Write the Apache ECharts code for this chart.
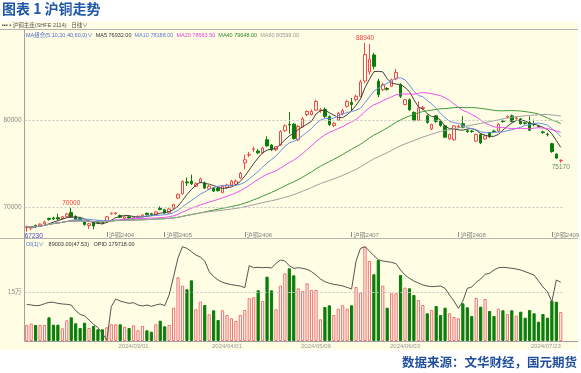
<!DOCTYPE html>
<html><head><meta charset="utf-8">
<script src="https://cdn.jsdelivr.net/npm/echarts@6.0.0/dist/echarts.min.js"></script>
<style>html,body{margin:0;padding:0;background:#fff;}#c{width:581px;height:373px;}</style>
</head><body><div id="c"></div>
<script>
const dates = ['2024/01/19','2024/01/22','2024/01/23','2024/01/24','2024/01/25','2024/01/26','2024/01/29','2024/01/30','2024/01/31',
'2024/02/01','2024/02/02','2024/02/05','2024/02/06','2024/02/07','2024/02/08','2024/02/19','2024/02/20','2024/02/21','2024/02/22','2024/02/23','2024/02/26','2024/02/27','2024/02/28','2024/02/29',
'2024/03/01','2024/03/04','2024/03/05','2024/03/06','2024/03/07','2024/03/08','2024/03/11','2024/03/12','2024/03/13','2024/03/14','2024/03/15','2024/03/18','2024/03/19','2024/03/20','2024/03/21','2024/03/22','2024/03/25','2024/03/26','2024/03/27','2024/03/28','2024/03/29',
'2024/04/01','2024/04/02','2024/04/03','2024/04/08','2024/04/09','2024/04/10','2024/04/11','2024/04/12','2024/04/15','2024/04/16','2024/04/17','2024/04/18','2024/04/19','2024/04/22','2024/04/23','2024/04/24','2024/04/25','2024/04/26','2024/04/29','2024/04/30',
'2024/05/06','2024/05/07','2024/05/08','2024/05/09','2024/05/10','2024/05/13','2024/05/14','2024/05/15','2024/05/16','2024/05/17','2024/05/20','2024/05/21','2024/05/22','2024/05/23','2024/05/24','2024/05/27','2024/05/28','2024/05/29','2024/05/30','2024/05/31',
'2024/06/03','2024/06/04','2024/06/05','2024/06/06','2024/06/07','2024/06/11','2024/06/12','2024/06/13','2024/06/14','2024/06/17','2024/06/18','2024/06/19','2024/06/20','2024/06/21','2024/06/24','2024/06/25','2024/06/26','2024/06/27','2024/06/28',
'2024/07/01','2024/07/02','2024/07/03','2024/07/04','2024/07/05','2024/07/08','2024/07/09','2024/07/10','2024/07/11','2024/07/12','2024/07/15','2024/07/16','2024/07/17','2024/07/18','2024/07/19','2024/07/22','2024/07/23'];

const opens = [67700,67650,67950,67900,68150,68750,68800,68850,68750,68950,
69450,69000,68750,68350,67950,68250,68450,68350,68350,69300,
69300,69100,68750,68950,68700,68850,68950,69350,69300,69250,
69900,69750,69400,69950,71100,71600,72950,73050,72450,72900,
72850,72150,72250,72250,71750,72300,72600,72650,73400,75150,
76050,76700,76500,76300,77800,77200,76650,77200,78850,79550,
79600,77800,79300,80700,80700,81200,81150,81300,80450,79450,
80050,80800,81650,82100,82400,82800,84550,85600,87550,84550,
83550,83700,83950,84800,84150,81850,82400,80950,80050,81400,
80550,79050,80550,79950,79400,77900,77800,79300,79650,78850,
78800,77650,78400,77900,78600,78800,78800,79950,80400,80550,
80250,80200,79750,79800,79600,79400,78700,78450,77350,76150,
75400];
const closes = [67800,67750,67850,68100,68350,68650,68700,68700,68950,69250,
68950,68700,68550,68050,68150,67900,68300,68250,68950,69350,
69400,68900,68950,68800,68850,69000,69150,69200,69200,69500,
69800,69400,69850,70350,71500,73000,72850,72750,72750,73300,
72250,72450,71900,71950,72450,72600,73050,73050,73950,75500,
76100,76750,76300,76850,77100,76650,77000,78750,79400,79500,
77950,79350,80200,81050,81050,82200,81250,80500,79550,79700,
80850,81150,82200,81850,82800,84450,87600,87050,86250,83000,
84150,83600,84700,85550,82800,82400,81250,80050,81450,81500,
79800,79550,79900,79450,78100,78400,79400,79350,79250,78750,
78750,78400,77450,78250,78150,78750,79550,79900,80450,79900,
80300,79650,79700,78900,79550,79350,78650,78400,76450,75700,
75450];
const lows = [67230,67400,67650,67800,68050,68500,68600,68550,68650,68900,
68850,68500,68450,67950,67550,67500,68150,68100,68250,69200,
69200,68800,68650,68700,68550,68750,68850,69100,69100,69150,
69700,69300,69300,69850,71000,71500,72500,72600,72350,72800,
72150,72050,71800,71850,71650,72200,72450,72550,73300,74400,
75800,76400,76150,76200,77000,76500,76500,77100,78700,78500,
77800,77650,79200,80500,80600,81100,80900,80300,79400,79250,
79950,80600,81500,81100,82200,82700,84300,85300,85900,82700,
83400,83450,83850,84650,82600,81750,81100,79900,79950,81200,
79650,78900,79750,79300,78000,77800,77700,79100,79100,78600,
78600,77550,77300,77750,78000,78600,78700,79750,80250,79800,
80100,79550,79550,78800,79350,79200,78450,78200,76300,75600,
75170];
const highs = [67950,67900,68050,68200,68500,68850,68950,69300,69050,69400,
70000,69100,68900,68450,68250,68350,68550,68450,69050,69450,
69500,69200,69050,69050,68950,69100,69250,69450,69400,69600,
70150,69850,69950,70450,71650,73150,73450,73800,72900,73450,
73000,72600,72350,72400,72550,72750,73200,73250,74100,76100,
76400,77000,76750,77000,78200,77300,77100,78900,79600,81000,
79700,79500,80400,81200,81300,82400,81450,81500,80600,79850,
81000,81350,82400,82600,83000,84700,88940,88800,87800,84800,
84350,83850,84850,85950,84300,82500,82550,81050,82200,81700,
80700,79650,80650,80100,79500,78500,79500,79550,80500,79000,
78950,78500,78550,78400,78700,78950,79700,80100,80600,80700,
80450,80300,79900,80500,80100,79500,78850,78600,77450,76250,
75550];
const volumes = [49000,53000,49000,49000,49000,72500,49900,49900,38900,63400,
72500,54200,39800,56000,39800,45900,35800,35800,41900,51100,
51100,51100,43800,39800,48100,32800,45900,32800,28500,51100,
62100,45000,49000,101900,195000,169300,158300,185800,97000,120300,
110200,81700,94000,64300,94000,79600,69500,61200,79600,94900,
130700,133800,155200,122400,196800,155200,97000,169300,207200,222500,
201100,161300,153100,176600,156100,156100,66400,104100,109300,79600,
98900,109300,98900,109300,165300,147800,288700,244900,204200,247900,
169300,101900,146000,146000,202000,163200,161300,140800,125500,110200,
84800,94900,107100,79600,101900,84800,73500,69500,115400,103200,
76500,131600,105000,128600,91800,76500,98900,94000,82600,94000,
77400,89700,71300,94900,84800,59100,82600,71300,123400,120300,
89003];
const openInterest = [112300,110200,108100,109100,114300,118400,118400,115300,113300,112300,
110200,93000,81600,76500,64300,51000,40800,23500,3100,105100,
128600,122400,118400,115300,117300,110200,107100,110200,106100,110200,
113300,108100,140800,196900,255100,288700,283600,273500,263300,257100,
244900,212200,196900,186700,179500,175500,172400,170400,168300,163200,
230500,224400,225500,224400,225500,223400,237700,248000,244900,230500,
222400,224400,222400,219400,212200,202000,189800,181600,176500,173400,
171400,168300,164200,159200,244900,283600,288700,275500,261300,249000,
244900,242800,240800,236700,217300,202000,191800,183700,177500,171400,
168300,166300,167300,168300,161200,140800,122400,100000,122400,161200,
165300,179500,189800,204100,207200,217300,224400,225500,224400,222400,
220400,217300,212200,207200,202000,183700,165300,151000,120400,186700,
179718];
const contractMarks = {'2024/02/22':'沪铜2404','2024/03/12':'沪铜2405','2024/04/09':'沪铜2406','2024/05/16':'沪铜2407','2024/06/20':'沪铜2408','2024/07/19':'沪铜2409'};
const dateMarks = ['2024/03/01','2024/04/01','2024/05/06','2024/06/03','2024/07/23'];
const priceLines = [70000, 80000];
const volLine = 150000;
const volLineLabel = '15万';
const maPeriods = [5, 10, 20, 40, 60];
const maColors = ['#404040', '#6a8fe0', '#f050f0', '#3f9a3f', '#a0a0a0'];
const earlyRange = 30, lateRange = 15;

const BG = '#fffde3';
const UP = '#f24848', DOWN = '#0a7d0a';

function movingAvg(n) {
  return closes.map((c, i) => {
    const s = Math.max(0, i - n + 1);
    let sum = 0;
    for (let k = s; k <= i; k++) sum += closes[k];
    return +(sum / (i - s + 1)).toFixed(2);
  });
}
const candles = dates.map((d, i) => [opens[i], closes[i], lows[i], highs[i]]);
function argExt(arr, from, to, isMax) {
  let best = from;
  for (let i = from; i < to; i++) if (isMax ? arr[i] > arr[best] : arr[i] < arr[best]) best = i;
  return best;
}
const iMax = argExt(highs, 0, highs.length, true);
const iEarlyMax = argExt(highs, 0, earlyRange, true);
const iMin = argExt(lows, 0, lows.length, false);
const iLateMin = argExt(lows, lows.length - lateRange, lows.length, false);

const volData = volumes.map((v, i) => {
  const up = closes[i] >= opens[i];
  return { value: v, itemStyle: up ? { color: '#fffaf0', borderColor: '#f07070', borderWidth: 1 } : { color: DOWN, borderColor: DOWN, borderWidth: 1 } };
});

const FF = 'Liberation Sans, Noto Sans CJK SC, sans-serif';
function mp(idx, val, pos, color, extra) {
  return { coord: [dates[idx], val], value: val, symbol: 'circle', symbolSize: 1,
    itemStyle: { color: 'rgba(0,0,0,0)', borderWidth: 0 },
    label: Object.assign({ show: true, position: pos, distance: 1, formatter: String(val), color: color, fontSize: 6.5, fontFamily: FF }, extra || {}) };
}

const chart = echarts.init(document.getElementById('c'), null, { renderer: 'canvas', width: 581, height: 373 });
const series = [
  {
    type: 'candlestick', xAxisIndex: 0, yAxisIndex: 0, data: candles, barWidth: 3, z: 3,
    itemStyle: { color: BG, color0: DOWN, borderColor: UP, borderColor0: DOWN, borderWidth: 1 },
    markLine: {
      silent: true, symbol: ['none', 'none'], animation: false,
      lineStyle: { type: [2, 2], color: '#c4c4c4', width: 1 },
      label: { show: true, position: 'start', distance: 3, color: '#8a8a8a', fontSize: 6.5, fontFamily: FF, formatter: p => String(p.value) },
      data: priceLines.map(v => ({ yAxis: v }))
    },
    markPoint: {
      animation: false, silent: true,
      data: [
        mp(iMax, highs[iMax], 'top', '#f03c3c'),
        mp(iEarlyMax, highs[iEarlyMax], 'top', '#f03c3c'),
        mp(iLateMin, lows[iLateMin], 'bottom', '#5a8a5a'),
        mp(iMin, lows[iMin], 'bottom', '#4848c8', { offset: [7, 0] })
      ]
    }
  }
];
maPeriods.forEach((p, k) => {
  series.push({ type: 'line', xAxisIndex: 0, yAxisIndex: 0, data: movingAvg(p), showSymbol: false, symbol: 'none',
    lineStyle: { width: 1, color: maColors[k] }, itemStyle: { color: maColors[k] }, z: 4, silent: true });
});
series.push({
  type: 'bar', xAxisIndex: 1, yAxisIndex: 1, data: volData, barWidth: 3.2, z: 2,
  markLine: {
    silent: true, symbol: ['none', 'none'], animation: false,
    lineStyle: { type: [2, 2], color: '#c4c4c4', width: 1 },
    label: { show: true, position: 'start', distance: 3, color: '#8a8a8a', fontSize: 6.5, fontFamily: FF, formatter: volLineLabel },
    data: [{ yAxis: volLine }]
  }
});
series.push({ type: 'line', xAxisIndex: 1, yAxisIndex: 1, data: openInterest, showSymbol: false, symbol: 'none',
  lineStyle: { width: 1, color: '#555555' }, z: 5, silent: true });

const option = {
  animation: false,
  backgroundColor: '#ffffff',
  grid: [
    { left: 24.5, right: 18, top: 30, bottom: 141, outerBoundsMode: 'none', containLabel: false },
    { left: 24.5, right: 18, top: 238, bottom: 32, outerBoundsMode: 'none', containLabel: false }
  ],
  xAxis: [
    { type: 'category', gridIndex: 0, data: dates, boundaryGap: true,
      axisLine: { show: false },
      axisTick: { show: true, alignWithLabel: true, interval: (i, v) => contractMarks[v] !== undefined, length: 5, lineStyle: { color: '#8a8a8a' } },
      axisLabel: { show: true, interval: (i, v) => contractMarks[v] !== undefined, formatter: v => contractMarks[v] || '',
        fontSize: 6, color: '#808080', align: 'left', margin: 0, padding: [0, 0, 0, 2], fontFamily: FF },
      splitLine: { show: false } },
    { type: 'category', gridIndex: 1, data: dates, boundaryGap: true,
      axisLine: { show: false }, axisTick: { show: false },
      axisLabel: { show: true, interval: (i, v) => dateMarks.includes(v), fontSize: 6, color: '#9a9a9a', margin: 2, fontFamily: FF, alignMaxLabel: 'right' },
      splitLine: { show: false } }
  ],
  yAxis: [
    { type: 'value', gridIndex: 0, min: 67200, max: 90420, axisLine: { show: false }, axisTick: { show: false }, axisLabel: { show: false }, splitLine: { show: false } },
    { type: 'value', gridIndex: 1, min: 0, max: 315300, axisLine: { show: false }, axisTick: { show: false }, axisLabel: { show: false }, splitLine: { show: false } }
  ],
  series: series,
  graphic: [
    { type: 'rect', z: -10, silent: true, shape: { x: 0, y: 21, width: 578, height: 329 }, style: { fill: BG } },
    { type: 'line', z: -5, silent: true, shape: { x1: 0, y1: 29.5, x2: 578, y2: 29.5 }, style: { stroke: '#b4b4b4', lineWidth: 1 } },
    { type: 'line', z: -5, silent: true, shape: { x1: 0, y1: 238.5, x2: 578, y2: 238.5 }, style: { stroke: '#b4b4b4', lineWidth: 1 } },
    { type: 'line', z: -5, silent: true, shape: { x1: 24.5, y1: 29.5, x2: 24.5, y2: 341.5 }, style: { stroke: '#a0a0a0', lineWidth: 1 } },
    { type: 'line', z: -5, silent: true, shape: { x1: 24.5, y1: 341.5, x2: 578, y2: 341.5 }, style: { stroke: '#a0a0a0', lineWidth: 1 } },
    { type: 'text', silent: true, x: 2, y: 2, style: { text: '图表 1 沪铜走势', fill: '#1f58a8', fontSize: 14, fontWeight: 'bold', fontFamily: 'Noto Sans CJK SC', verticalAlign: 'top' } },
    { type: 'text', silent: true, x: 2, y: 25.5, style: { text: '▪▪▪ ▪ 沪铜主连(SHFE 2114)   日线∨', fill: '#505050', fontSize: 5.5, fontFamily: FF, verticalAlign: 'middle' } },
    { type: 'text', silent: true, x: 26, y: 35, style: {
        text: '{b|MA组合(5,10,20,40,60,0)∨}  {k|MA5 76932.00}  {bl|MA10 78188.00}  {m|MA20 78663.50}  {g|MA40 79648.00}  {gr|MA60 80599.00}',
        verticalAlign: 'middle', fontSize: 5.5, fontFamily: FF,
        rich: { b: { fill: '#4a66c8', fontSize: 5.5, fontFamily: FF }, k: { fill: '#333', fontSize: 5.5, fontFamily: FF }, bl: { fill: '#5a7ad8', fontSize: 5.5, fontFamily: FF },
          m: { fill: '#e040e0', fontSize: 5.5, fontFamily: FF }, g: { fill: '#2e8b2e', fontSize: 5.5, fontFamily: FF }, gr: { fill: '#999', fontSize: 5.5, fontFamily: FF } } } },
    { type: 'text', silent: true, x: 26, y: 244, style: {
        text: '{b|OI(1)∨}   {k|89003.00(47.53)}   {k|OPID 179718.00}',
        verticalAlign: 'middle', fontSize: 5.5, fontFamily: FF,
        rich: { b: { fill: '#4a66c8', fontSize: 5.5, fontFamily: FF }, k: { fill: '#333', fontSize: 5.5, fontFamily: FF } } } },
    { type: 'text', silent: true, x: 577, y: 362, style: { text: '数据来源：文华财经，国元期货', fill: '#1f4e9c', fontSize: 12.5, fontWeight: 'bold', fontFamily: 'Noto Sans CJK SC', align: 'right', verticalAlign: 'middle' } }
  ]
};
chart.setOption(option);
</script>
</body></html>
